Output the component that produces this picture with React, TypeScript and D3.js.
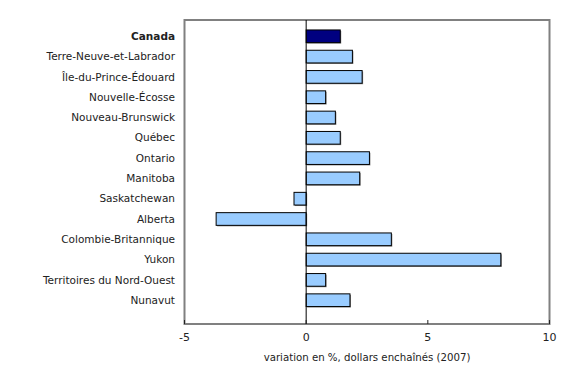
import React from "react";
import * as d3 from "d3";

const categories = [
  "Canada",
  "Terre-Neuve-et-Labrador",
  "Île-du-Prince-Édouard",
  "Nouvelle-Écosse",
  "Nouveau-Brunswick",
  "Québec",
  "Ontario",
  "Manitoba",
  "Saskatchewan",
  "Alberta",
  "Colombie-Britannique",
  "Yukon",
  "Territoires du Nord-Ouest",
  "Nunavut",
];
const values = [1.4, 1.9, 2.3, 0.8, 1.2, 1.4, 2.6, 2.2, -0.5, -3.7, 3.5, 8.0, 0.8, 1.8];
const xTicks = [-5, 0, 5, 10];
const xTitle = "variation en %, dollars enchaînés (2007)";

const W = 580;
const H = 365;
const FONT = "'DejaVu Sans', Verdana, sans-serif";

export default function App() {
  const left = 184.5;
  const right = 549.5;
  const top = 20;
  const bottom = 324;
  const x = d3.scaleLinear().domain([-5, 10]).range([left, right]);
  const y = d3
    .scaleBand<string>()
    .domain(categories)
    .range([26.15, 310.35])
    .paddingInner(0.375)
    .paddingOuter(0.1875);

  return (
    <svg
      width={W}
      height={H}
      style={{ position: "absolute", left: 0, top: 0, background: "#fff" }}
      fontFamily={FONT}
    >
      {/* frame */}
      <rect x={left} y={top} width={right - left} height={bottom - top} fill="none" stroke="#808080" strokeWidth={2} />
      {/* bars */}
      {categories.map((c, i) => {
        const v = values[i];
        const x0 = x(Math.min(0, v));
        const w = Math.abs(x(v) - x(0));
        const yy = y(c)!;
        const h = y.bandwidth();
        return (
          <g key={c}>
            <rect x={x0 + 1} y={yy + 1} width={w} height={h} fill="#8a8a8a" />
            <rect
              x={x0}
              y={yy}
              width={w}
              height={h}
              fill={i === 0 ? "#000080" : "#99CCFF"}
              stroke="#000"
              strokeWidth={1}
            />
          </g>
        );
      })}
      {/* zero line */}
      <line x1={x(0)} x2={x(0)} y1={top} y2={bottom} stroke="#000" strokeWidth={1} />
      {/* ticks */}
      {xTicks.map((t) => (
        <g key={t}>
          <line x1={x(t)} x2={x(t)} y1={bottom} y2={bottom - 4} stroke="#222" strokeWidth={1} />
          <text x={x(t)} y={bottom + 17} textAnchor="middle" fontSize={11} fill="#222">
            {t}
          </text>
        </g>
      ))}
      {/* category labels */}
      {categories.map((c, i) => (
        <text
          key={c}
          x={175}
          y={y(c)! + y.bandwidth() / 2}
          dy="0.35em"
          textAnchor="end"
          fontSize={10.5}
          fontWeight={i === 0 ? "bold" : "normal"}
          fill="#222"
        >
          {c}
        </text>
      ))}
      <text x={(left + right) / 2} y={360.5} textAnchor="middle" fontSize={10.2} fill="#222">
        {xTitle}
      </text>
    </svg>
  );
}
